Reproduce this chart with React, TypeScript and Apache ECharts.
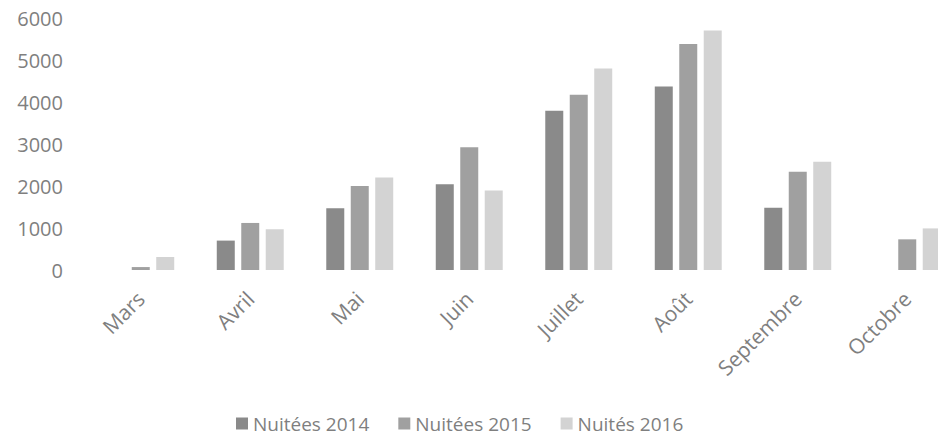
import React, { useEffect, useRef } from "react";
import * as echarts from "echarts";

const categories = ["Mars", "Avril", "Mai", "Juin", "Juillet", "Août", "Septembre", "Octobre"];
const nuitees2014 = [null, 700, 1470, 2040, 3790, 4370, 1480, null];
const nuitees2015 = [70, 1120, 2000, 2920, 4170, 5380, 2340, 730];
const nuitees2016 = [310, 970, 2200, 1890, 4800, 5700, 2580, 990];
const yTicks = [0, 1000, 2000, 3000, 4000, 5000, 6000];
const seriesNames = ["Nuitées 2014", "Nuitées 2015", "Nuités 2016"];

const FONT = "Open Sans";
const TEXT_COLOR = "#7f7f7f";

export default function App() {
  const ref = useRef<HTMLDivElement>(null);
  useEffect(() => {
    if (!ref.current) return;
    const chart = echarts.init(ref.current, undefined, { renderer: "svg" });
    const colors = ["#8a8a8a", "#a0a0a0", "#d3d3d3"];
    const data = [nuitees2014, nuitees2015, nuitees2016];
    chart.setOption({
      animation: false,
      backgroundColor: "#ffffff",
      color: colors,
      textStyle: { fontFamily: FONT },
      grid: { left: 86, top: 18, width: 876, height: 252, containLabel: false },
      legend: {
        left: 231,
        top: 409,
        icon: "rect",
        itemWidth: 12,
        itemHeight: 12,
        itemGap: 29,
        textStyle: { color: TEXT_COLOR, fontSize: 19, fontFamily: FONT },
        data: seriesNames,
      },
      xAxis: {
        type: "category",
        data: categories,
        axisLine: { show: false },
        axisTick: { show: false },
        axisLabel: { rotate: 45, color: TEXT_COLOR, fontSize: 21, fontFamily: FONT, margin: 25, interval: 0 },
      },
      yAxis: {
        type: "value",
        min: yTicks[0],
        max: yTicks[yTicks.length - 1],
        interval: yTicks[1] - yTicks[0],
        splitLine: { show: false },
        axisLine: { show: false },
        axisTick: { show: false },
        axisLabel: {
          color: TEXT_COLOR,
          fontSize: 20,
          fontFamily: FONT,
          margin: 23,
          formatter: (v: number) => String(v),
        },
      },
      series: seriesNames.map((name, i) => ({
        name,
        type: "bar",
        data: data[i],
        barWidth: 18,
        barGap: "36%",
        itemStyle: { color: colors[i] },
      })),
    });
    return () => chart.dispose();
  }, []);
  return (
    <div style={{ position: "fixed", left: 0, top: 0, width: 938, height: 443, overflow: "hidden", background: "#fff" }}>
      <div ref={ref} style={{ width: 990, height: 443 }} />
    </div>
  );
}
